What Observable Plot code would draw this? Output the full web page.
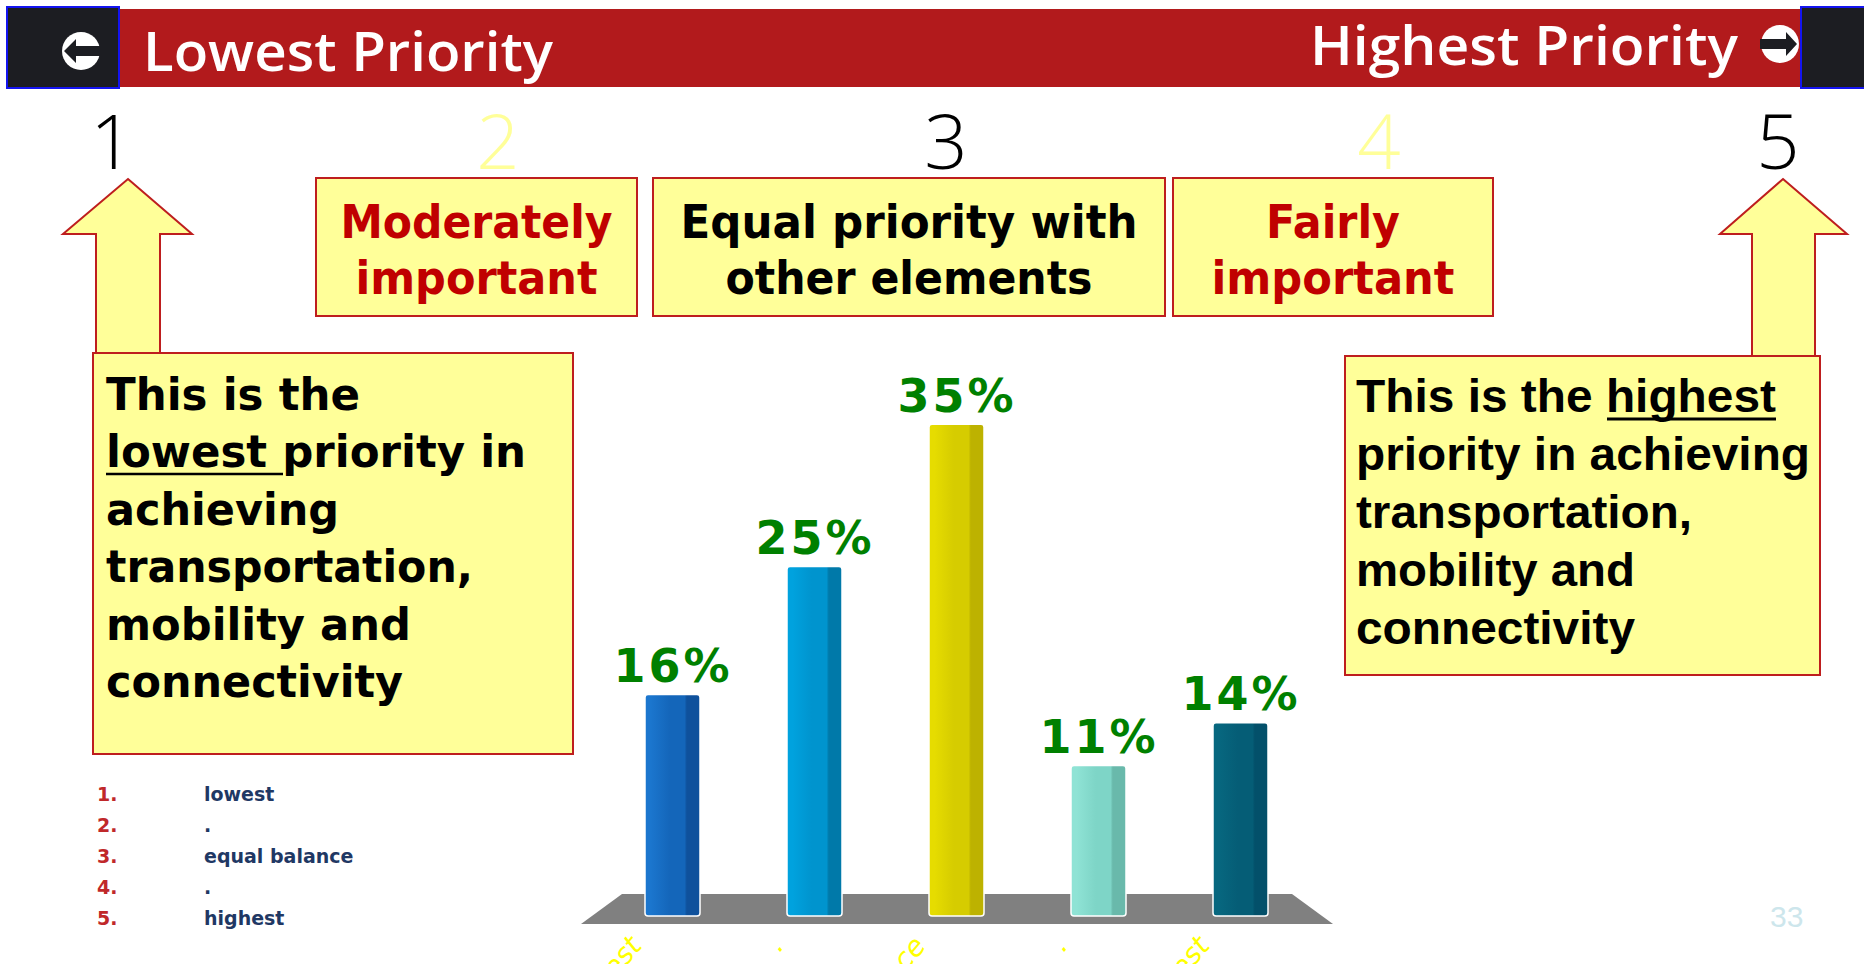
<!DOCTYPE html>
<html>
<head>
<meta charset="utf-8">
<script src="https://cdn.jsdelivr.net/npm/d3@7"></script>
<script src="https://cdn.jsdelivr.net/npm/@observablehq/plot@0.6"></script>
<style>
html, body { margin: 0; padding: 0; background: #ffffff; }
#slide { position: relative; width: 1864px; height: 964px; overflow: hidden; background: #ffffff; }
#slide > svg { position: absolute; left: 0; top: 0; }
</style>
</head>
<body>
<div id="slide"></div>
<script>
// ---------------- data ----------------
const ranks = ["1", "2", "3", "4", "5"];
const categories = ["lowest", ".", "equal balance", ".", "highest"];
const values = [16, 25, 35, 11, 14];
const barShades = [
  ["#1B76CE", "#1466BA", "#0F519C"],
  ["#00A2DE", "#0094CE", "#0079A9"],
  ["#E6DC00", "#D6CC00", "#BDB200"],
  ["#8FE3D5", "#7ED5C7", "#69B9AB"],
  ["#07677F", "#055D76", "#03506A"]
];
const headerLeft = "Lowest Priority";
const headerRight = "Highest Priority";
const rankColors = ["#000000", "#FFFF99", "#000000", "#FFFF99", "#000000"];
const midBoxLines = [["Moderately", "important"], ["Equal priority with", "other elements"], ["Fairly", "important"]];
const midBoxColors = ["#C00000", "#000000", "#C00000"];
const leftNoteLines = ["This is the", "lowest priority in", "achieving", "transportation,", "mobility and", "connectivity"];
const rightNoteLines = ["This is the highest", "priority in achieving", "transportation,", "mobility and", "connectivity"];
const pageNumber = "33";

// ---------------- layout (decorations) ----------------
const W = 1864, H = 964;
const slide = d3.select("#slide");
const bg = slide.append("svg").attr("width", W).attr("height", H).attr("viewBox", `0 0 ${W} ${H}`);
const defs = bg.append("defs");

ranks.forEach((r, i) => {
  const [a, b, c] = barShades[i];
  const g = defs.append("linearGradient").attr("id", "bar" + r)
    .attr("x1", 0).attr("x2", 1).attr("y1", 0).attr("y2", 0);
  [[0, a], [0.1, a], [0.45, b], [0.72, b], [0.76, c], [1, c]].forEach(([o, col]) =>
    g.append("stop").attr("offset", o).attr("stop-color", col));
});

function text(parent, s, x, y, o = {}) {
  const t = parent.append("text").attr("x", x).attr("y", y)
    .attr("font-family", o.family || "DejaVu Sans")
    .attr("font-size", o.size || 20)
    .attr("font-weight", o.weight || "normal")
    .attr("fill", o.fill || "#000")
    .attr("text-anchor", o.anchor || "start")
    .style("white-space", "pre")
    .text(s);
  if (o.length) t.attr("textLength", o.length).attr("lengthAdjust", "spacingAndGlyphs");
  if (o.style) t.attr("font-style", o.style);
  return t;
}

// header bar
bg.append("rect").attr("x", 119).attr("y", 9).attr("width", 1682).attr("height", 78).attr("fill", "#B21A1C");
bg.append("rect").attr("x", 7).attr("y", 7).attr("width", 112).attr("height", 81)
  .attr("fill", "#1C1D22").attr("stroke", "#1414F0").attr("stroke-width", 2);
bg.append("rect").attr("x", 1801).attr("y", 7).attr("width", 70).attr("height", 81)
  .attr("fill", "#1C1D22").attr("stroke", "#1414F0").attr("stroke-width", 2);

// header icons
bg.append("circle").attr("cx", 81).attr("cy", 51).attr("r", 19).attr("fill", "#ffffff");
bg.append("path").attr("d", "M64,51 L76,39 L76,46 L101,46 L101,56 L76,56 L76,63 Z").attr("fill", "#1C1D22");
bg.append("circle").attr("cx", 1780).attr("cy", 44).attr("r", 19).attr("fill", "#ffffff");
bg.append("path").attr("d", "M1797,44 L1786,32 L1786,39 L1760,39 L1760,49 L1786,49 L1786,56 Z").attr("fill", "#1C1D22");

text(bg, headerLeft, 143, 71, {family: "Open Sans", size: 55, weight: 600, fill: "#ffffff", length: 410});
text(bg, headerRight, 1310, 65, {family: "Open Sans", size: 55, weight: 600, fill: "#ffffff", length: 428});

// rank numbers
const rankX = [112, 498, 946, 1379, 1778];
ranks.forEach((r, i) => text(bg, r, rankX[i], 169, {family: "Open Sans", size: 76, weight: 300, fill: rankColors[i], anchor: "middle"}));

// middle boxes
const boxX = [316, 653, 1173], boxW = [321, 512, 320];
const midLen = [[272, 242], [457, 367], [134, 243]];
midBoxLines.forEach((lines, i) => {
  bg.append("rect").attr("x", boxX[i]).attr("y", 178).attr("width", boxW[i]).attr("height", 138)
    .attr("fill", "#FFFF99").attr("stroke", "#BE1E1E").attr("stroke-width", 2);
  lines.forEach((l, j) => text(bg, l, boxX[i] + boxW[i] / 2, [238, 294][j],
    {size: 47, weight: "bold", fill: midBoxColors[i], anchor: "middle", length: midLen[i][j]}));
});

// up arrows
function upArrow(tipX, tipY, headL, headR, baseY, shaftL, shaftR, bottom) {
  bg.append("path")
    .attr("d", `M${tipX},${tipY} L${headR},${baseY} L${shaftR},${baseY} L${shaftR},${bottom} L${shaftL},${bottom} L${shaftL},${baseY} L${headL},${baseY} Z`)
    .attr("fill", "#FFFF99").attr("stroke", "#BE1E1E").attr("stroke-width", 2);
}
upArrow(128, 179, 63, 192, 234, 96, 160, 356);
upArrow(1783, 179, 1720, 1847, 234, 1752, 1815, 358);

// left note box
bg.append("rect").attr("x", 93).attr("y", 353).attr("width", 480).attr("height", 401)
  .attr("fill", "#FFFF99").attr("stroke", "#BE1E1E").attr("stroke-width", 2);
const leftLen = [254, 420, 233, 367, 305, 297];
leftNoteLines.forEach((l, j) => text(bg, l, 106, 410 + j * 57.4, {size: 44, weight: "bold", length: leftLen[j]}));
bg.append("line").attr("x1", 106).attr("x2", 283).attr("y1", 474).attr("y2", 474).attr("stroke", "#000").attr("stroke-width", 2.5);

// right note box
bg.append("rect").attr("x", 1345).attr("y", 356).attr("width", 475).attr("height", 319)
  .attr("fill", "#FFFF99").attr("stroke", "#BE1E1E").attr("stroke-width", 2);
const rightLen = [420, 454, 336, 279, 279];
rightNoteLines.forEach((l, j) => text(bg, l, 1356, 412 + j * 58, {family: "Liberation Sans", size: 47, weight: "bold", length: rightLen[j]}));
bg.append("line").attr("x1", 1607).attr("x2", 1776).attr("y1", 419).attr("y2", 419).attr("stroke", "#000").attr("stroke-width", 3);

// legend list
ranks.forEach((r, i) => {
  text(bg, r + ".", 97, 801 + i * 31, {size: 19, weight: "bold", fill: "#C0282A"});
  text(bg, categories[i], 204, 801 + i * 31, {size: 19, weight: "bold", fill: "#1F3864"});
});

// page number
text(bg, pageNumber, 1770, 927, {family: "Liberation Sans", size: 30, fill: "#CDE6EC"});

// chart floor
bg.append("path").attr("d", "M622,894 L1292,894 L1333,924 L581,924 Z").attr("fill", "#808080");

// ---------------- chart ----------------
const data = ranks.map((r, i) => ({rank: r, label: categories[i], value: values[i]}));

const chart = Plot.plot({
  width: W,
  height: H,
  marginLeft: 556,
  marginRight: 507,
  marginTop: 353,
  marginBottom: 42,
  style: {background: "transparent", overflow: "visible"},
  x: {domain: ranks, padding: 0.61, axis: null},
  y: {domain: [0, 40], axis: null},
  color: {type: "identity"},
  marks: [
    Plot.barY(data, {x: "rank", y: "value", fill: d => `url(#bar${d.rank})`, stroke: "#ffffff", strokeWidth: 1.5, rx: 3, insetBottom: 6}),
    Plot.text(data, {x: "rank", y: "value", text: d => d.value + "%", dy: -13, lineAnchor: "bottom",
      fill: "#008000", fontSize: 46, fontWeight: "bold", fontFamily: "DejaVu Sans"}),
    Plot.text(data, {x: "rank", text: "label", frameAnchor: "bottom", rotate: -50, textAnchor: "end",
      dx: -30, dy: 24, fill: "#FFFF00", fontSize: 28, fontStyle: "italic", fontFamily: "DejaVu Sans"})
  ]
});
d3.select(chart).selectAll('g[aria-label="text"]').filter((d, i) => i === 0).attr("letter-spacing", 3);
slide.node().appendChild(chart);
</script>
</body>
</html>
